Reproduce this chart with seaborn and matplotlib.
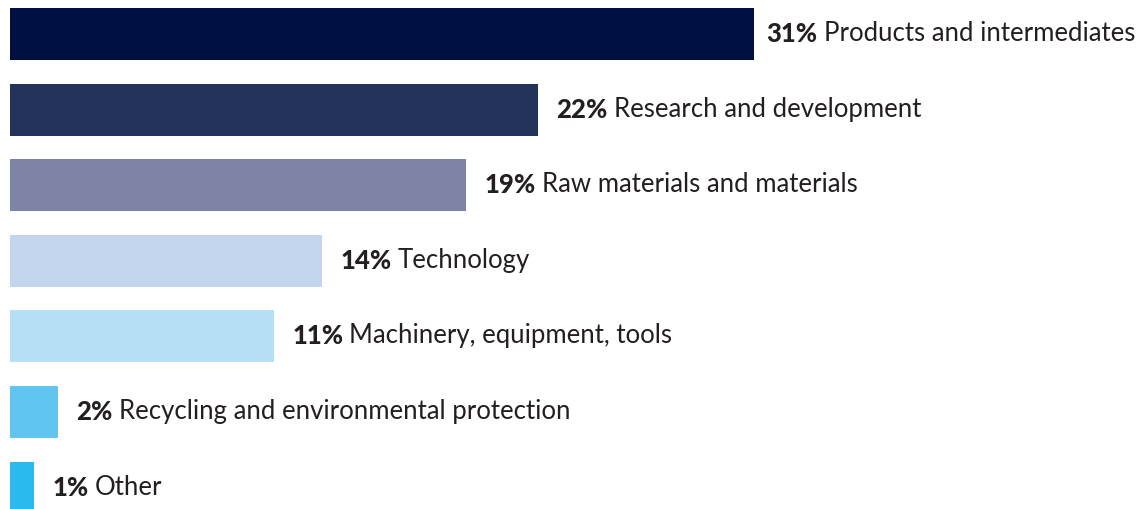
import pandas as pd
import matplotlib.pyplot as plt
import seaborn as sns

categories = ["Products and intermediates", "Research and development",
              "Raw materials and materials", "Technology",
              "Machinery, equipment, tools",
              "Recycling and environmental protection", "Other"]
values = [31, 22, 19, 13, 11, 2, 1]
pct_labels = ["31%", "22%", "19%", "14%", "11%", "2%", "1%"]
colors = ["#001141", "#24335c", "#7e84a6", "#c2d5ec", "#b6dff6", "#62c5f0", "#2cb9ed"]

df = pd.DataFrame({"category": categories, "value": values})

sns.set_theme(style="white")
plt.rcParams["font.family"] = ["Lato", "DejaVu Sans"]

fig = plt.figure(figsize=(11.42, 5.09), dpi=100)
ax = fig.add_axes([10 / 1142, 0, 1 - 10 / 1142, 1])
sns.barplot(data=df, x="value", y="category", hue="category", palette=colors,
            saturation=1, width=0.69, linewidth=0, legend=False, ax=ax)

ax.set_xlim(0, 1132 / 24)
ax.set_ylim(6.283, -0.45)
ax.axis("off")

txt_color = "#231f20"
for i, (v, pct, name) in enumerate(zip(values, pct_labels, categories)):
    off = 9 if i == 0 else 13
    t1 = ax.annotate(pct, xy=(v, i), xytext=(off, 0), textcoords="offset points",
                     va="center", ha="left", fontsize=18.5, fontweight=900,
                     color=txt_color)
    ax.annotate(name, xy=(1, 0), xycoords=t1, xytext=(4.5, 0),
                textcoords="offset points", va="bottom", ha="left",
                fontsize=18.5, color=txt_color)

fig.savefig("out.png", dpi=100)
